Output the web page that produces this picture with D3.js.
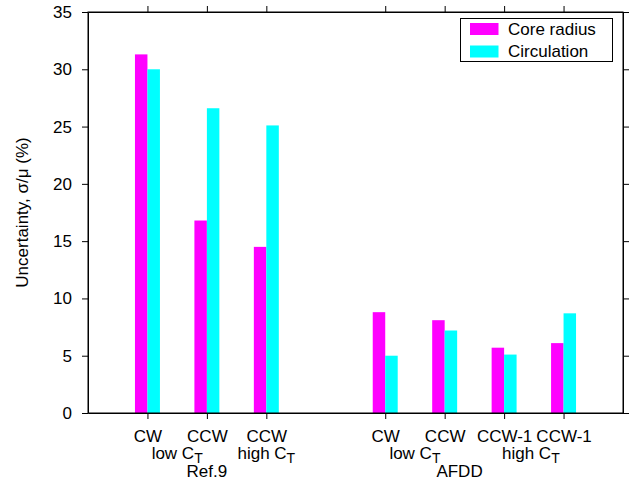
<!DOCTYPE html>
<html>
<head>
<meta charset="utf-8">
<script src="https://cdn.jsdelivr.net/npm/d3@7"></script>
<style>
  html, body { margin: 0; padding: 0; background: #fff; }
  svg { display: block; }
  text { font-family: "Liberation Sans", Arial, Helvetica, sans-serif; fill: #000; }
</style>
</head>
<body>
<svg id="chart" width="644" height="481"></svg>
<script>
// Uncertainty of vortex parameters, by case
const groups = ["Ref.9", "AFDD"];
const cases = [
  { name: "CW",    group: 0 },
  { name: "CCW",   group: 0 },
  { name: "CCW",   group: 0 },
  { name: "CW",    group: 1 },
  { name: "CCW",   group: 1 },
  { name: "CCW-1", group: 1 },
  { name: "CCW-1", group: 1 }
];
const coreRadius  = [31.3, 16.8, 14.5, 8.8, 8.1, 5.7, 6.1];
const circulation = [30.0, 26.6, 25.1, 5.0, 7.2, 5.1, 8.7];
const seriesNames = ["Core radius", "Circulation"];
const seriesColors = ["#ff00ff", "#00ffff"];
const yTicks = [0, 5, 10, 15, 20, 25, 30, 35];

// second / third lines under the tick labels (x in category units)
const subLabels = [
  { text: "low C",  sub: "T", x: 1.5,  line: 1 },
  { text: "high C", sub: "T", x: 3,    line: 1 },
  { text: "Ref.9",  sub: "",  x: 2,    line: 2 },
  { text: "low C",  sub: "T", x: 5.5,  line: 1 },
  { text: "high C", sub: "T", x: 7.45, line: 1 },
  { text: "AFDD",   sub: "",  x: 6.25, line: 2 }
];

const svg = d3.select("#chart");
const L = 88, R = 623, T = 12, B = 413;
const fs = 17;

// one empty slot between the two groups
const pos = cases.map((c, i) => i + 1 + c.group);

const x = d3.scaleLinear().domain([0, 9]).range([L, R]);
const y = d3.scaleLinear().domain([0, 35]).range([B, T]);
const barW = x(0.21) - x(0);

// bars
const series = [coreRadius, circulation];
series.forEach((vals, s) => {
  svg.append("g").selectAll("rect").data(vals).join("rect")
    .attr("x", (d, i) => s === 0 ? x(pos[i]) - barW : x(pos[i]))
    .attr("y", d => y(d))
    .attr("width", barW)
    .attr("height", d => y(0) - y(d))
    .attr("fill", seriesColors[s]);
});

// axes (ticks outward, mirrored on top/right)
function styleAxis(g) {
  g.selectAll("path, line").attr("stroke", "#000").attr("stroke-width", 1);
  g.selectAll("text").style("font-size", fs + "px").attr("fill", "#000");
  g.attr("font-family", null).attr("font-size", null);
}

svg.append("g").attr("transform", `translate(${L},0)`)
  .call(d3.axisLeft(y).tickValues(yTicks).tickSize(6).tickSizeOuter(0).tickPadding(10))
  .call(styleAxis);
svg.append("g").attr("transform", `translate(${R},0)`)
  .call(d3.axisRight(y).tickValues(yTicks).tickSize(6).tickSizeOuter(0).tickFormat(""))
  .call(styleAxis);
svg.append("g").attr("transform", `translate(0,${B})`)
  .call(d3.axisBottom(x).tickValues(pos).tickSize(6).tickSizeOuter(0).tickPadding(11)
    .tickFormat((d, i) => cases[i].name))
  .call(styleAxis);
svg.append("g").attr("transform", `translate(0,${T})`)
  .call(d3.axisTop(x).tickValues(pos).tickSize(6).tickSizeOuter(0).tickFormat(""))
  .call(styleAxis);

// frame
svg.append("rect").attr("x", L).attr("y", T).attr("width", R - L).attr("height", B - T)
  .attr("fill", "none").attr("stroke", "#000").attr("stroke-width", 1);

// additional label lines
const line1Base = 442;
const lineH = 17.3;
subLabels.forEach(s => {
  const t = svg.append("text")
    .attr("x", x(s.x))
    .attr("y", line1Base + s.line * lineH)
    .attr("text-anchor", "middle")
    .style("font-size", fs + "px");
  t.append("tspan").text(s.text);
  if (s.sub) {
    t.append("tspan").attr("dy", 4).style("font-size", "14px").text(s.sub);
  }
});

// y axis title
svg.append("text")
  .attr("transform", `translate(28,${(T + B) / 2}) rotate(-90)`)
  .attr("text-anchor", "middle")
  .style("font-size", fs + "px")
  .text("Uncertainty, σ/μ (%)");

// legend
const lg = svg.append("g");
lg.append("rect").attr("x", 460.5).attr("y", 18.5).attr("width", 152).attr("height", 43)
  .attr("fill", "#fff").attr("stroke", "#000").attr("stroke-width", 1);
seriesNames.forEach((n, i) => {
  lg.append("rect").attr("x", 470).attr("y", 23 + i * 22.5).attr("width", 28.5).attr("height", 12)
    .attr("fill", seriesColors[i]);
  lg.append("text").attr("x", 508).attr("y", 35 + i * 21.8)
    .style("font-size", fs + "px").text(n);
});
</script>
</body>
</html>
